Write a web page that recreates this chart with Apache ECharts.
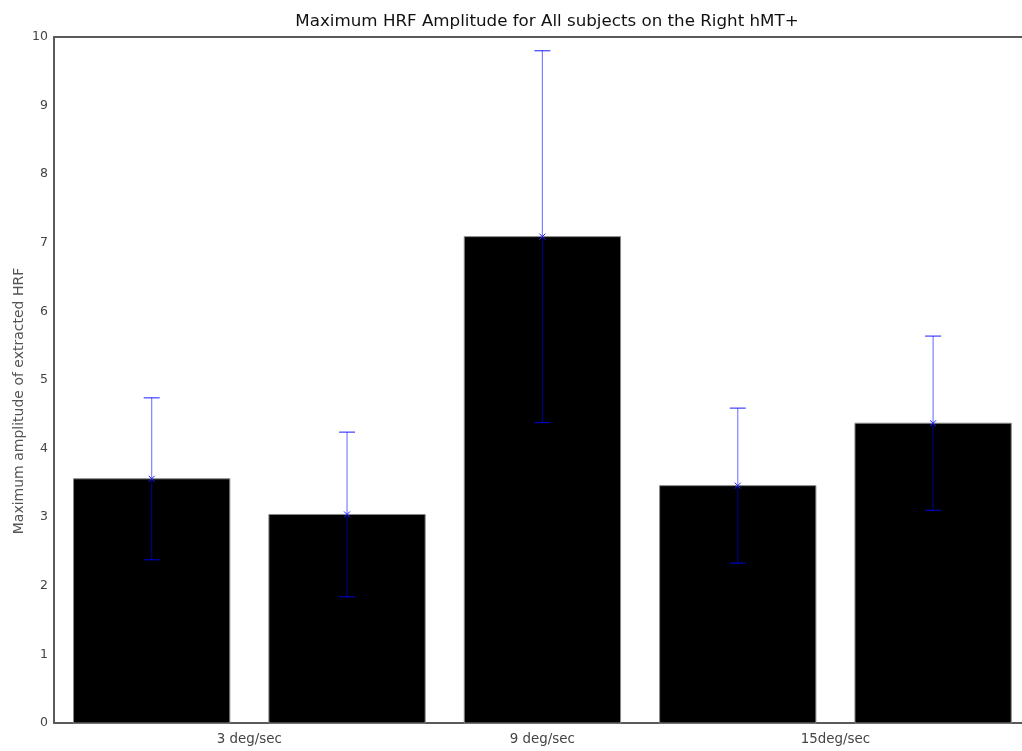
<!DOCTYPE html>
<html>
<head>
<meta charset="utf-8">
<script src="https://cdn.jsdelivr.net/npm/echarts@6/dist/echarts.min.js"></script>
<style>
  html, body { margin: 0; padding: 0; background: #fff; }
  #chart { width: 1022px; height: 751px; }
</style>
</head>
<body>
<div id="chart"></div>
<script>
// Bar positions (x in axis units), mean amplitudes and error half-widths
const barX = [1, 2, 3, 4, 5];
const meanAmp = [3.56, 3.04, 7.09, 3.46, 4.37];
const errAmp = [1.18, 1.20, 2.71, 1.13, 1.27];

// Speed labels and where they sit on the x axis
const tickPos = [1.5, 3, 4.5];
const tickLabels = ['3 deg/sec', '9 deg/sec', '15deg/sec'];

const BAR_WIDTH = 0.8; // in x-axis units
const FONT = '"DejaVu Sans", "Liberation Sans", sans-serif';
const AXIS_COLOR = '#5a5a5a';

const barData = barX.map((x, i) => [x, meanAmp[i]]);
const errData = barX.map((x, i) => [x, meanAmp[i], meanAmp[i] - errAmp[i], meanAmp[i] + errAmp[i]]);

const chart = echarts.init(document.getElementById('chart'), null, { renderer: 'canvas' });

chart.setOption({
  animation: false,
  backgroundColor: '#ffffff',
  title: {
    text: 'Maximum HRF Amplitude for All subjects on the Right hMT+',
    left: 542,
    textAlign: 'center',
    top: 8,
    textStyle: { fontFamily: FONT, fontSize: 16.7, fontWeight: 'normal', color: '#111' }
  },
  grid: { left: 54, top: 37, right: 0, bottom: 28 },
  // the axes run a little past the right edge of the window (x range 0.5 .. 5.5)
  xAxis: [
    {
      type: 'value',
      min: 0.5, max: 5.455,
      axisLine: { show: true, lineStyle: { color: AXIS_COLOR, width: 2 } },
      axisTick: { show: false },
      splitLine: { show: false },
      axisLabel: {
        customValues: tickPos,
        formatter: (v) => tickLabels[tickPos.indexOf(v)] || '',
        margin: 10,
        fontFamily: FONT, fontSize: 13.4, color: '#444'
      }
    },
    {
      type: 'value',
      position: 'top',
      min: 0.5, max: 5.455,
      axisLine: { show: true, lineStyle: { color: AXIS_COLOR, width: 2 } },
      axisTick: { show: false },
      axisLabel: { show: false },
      splitLine: { show: false }
    }
  ],
  yAxis: {
    type: 'value',
    min: 0, max: 10, interval: 1,
    axisLine: { show: true, lineStyle: { color: AXIS_COLOR, width: 2 } },
    axisTick: { show: false },
    splitLine: { show: false },
    axisLabel: { margin: 6, fontFamily: FONT, fontSize: 12.5, color: '#444' }
  },
  graphic: [
    {
      type: 'text',
      x: 19, y: 401,
      rotation: Math.PI / 2,
      style: {
        text: 'Maximum amplitude of extracted HRF',
        fontFamily: FONT, fontSize: 14, fill: '#555',
        align: 'center', verticalAlign: 'middle'
      }
    }
  ],
  series: [
    {
      type: 'custom',
      name: 'bars',
      data: barData,
      encode: { x: 0, y: 1 },
      renderItem: (params, api) => {
        const x = api.value(0), y = api.value(1);
        const topLeft = api.coord([x - BAR_WIDTH / 2, y]);
        const bottomRight = api.coord([x + BAR_WIDTH / 2, 0]);
        return {
          type: 'rect',
          shape: {
            x: topLeft[0], y: topLeft[1],
            width: bottomRight[0] - topLeft[0],
            height: bottomRight[1] - topLeft[1]
          },
          style: { fill: '#000', stroke: '#888', lineWidth: 1 }
        };
      },
      z: 2
    },
    {
      type: 'custom',
      name: 'error',
      data: errData,
      encode: { x: 0, y: [1, 2, 3] },
      renderItem: (params, api) => {
        const x = api.value(0);
        const mid = api.coord([x, api.value(1)]);
        const lo = api.coord([x, api.value(2)]);
        const hi = api.coord([x, api.value(3)]);
        const cap = 8, m = 3;
        const stroke = 'rgba(0,0,255,0.5)';
        const capStroke = 'rgba(0,0,255,0.75)';
        return {
          type: 'group',
          children: [
            { type: 'line', shape: { x1: hi[0], y1: hi[1], x2: lo[0], y2: lo[1] },
              style: { stroke: stroke, lineWidth: 1.2 } },
            { type: 'line', shape: { x1: hi[0] - cap, y1: hi[1], x2: hi[0] + cap, y2: hi[1] },
              style: { stroke: capStroke, lineWidth: 1.2 } },
            { type: 'line', shape: { x1: lo[0] - cap, y1: lo[1], x2: lo[0] + cap, y2: lo[1] },
              style: { stroke: capStroke, lineWidth: 1.2 } },
            { type: 'line', shape: { x1: mid[0] - m, y1: mid[1] - m, x2: mid[0] + m, y2: mid[1] + m },
              style: { stroke: '#2020ff', lineWidth: 1 } },
            { type: 'line', shape: { x1: mid[0] - m, y1: mid[1] + m, x2: mid[0] + m, y2: mid[1] - m },
              style: { stroke: '#2020ff', lineWidth: 1 } }
          ]
        };
      },
      z: 3
    }
  ]
});
</script>
</body>
</html>
